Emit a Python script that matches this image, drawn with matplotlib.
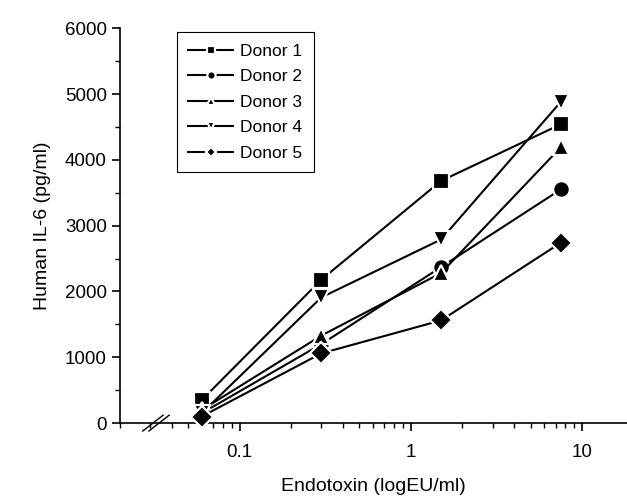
import matplotlib.pyplot as plt
from matplotlib.ticker import FixedLocator, FixedFormatter, NullFormatter, LogLocator

plt.rcParams['font.family'] = ['Liberation Sans', 'DejaVu Sans']

# Endotoxin-Konzentrationen (EU/ml)
endotoxin = [0.06, 0.3, 1.5, 7.5]

# IL-6 Werte pro Spender (pg/ml)
donor1 = [350, 2180, 3680, 4540]
donor2 = [150, 1200, 2370, 3550]
donor3 = [200, 1330, 2280, 4190]
donor4 = [150, 1910, 2790, 4880]
donor5 = [100, 1060, 1560, 2740]

donors = [donor1, donor2, donor3, donor4, donor5]
labels = ['Donor 1', 'Donor 2', 'Donor 3', 'Donor 4', 'Donor 5']
markers = ['s', 'o', '^', 'v', 'D']
sizes = [12, 12, 12, 12, 11]

fig = plt.figure(figsize=(6.27, 4.96), dpi=100)
ax = fig.add_axes([0.1914, 0.147, 0.8086, 0.796])

for werte, lab, m, s in zip(donors, labels, markers, sizes):
    ax.plot(endotoxin, werte, color='black', lw=1.5, marker=m, ms=s,
            mfc='black', mec='white', mew=1.6, label=lab, clip_on=False, zorder=3)

ax.set_xscale('log')
ax.set_xlim(0.02, 18.3)
ax.set_ylim(0, 6000)

ax.xaxis.set_major_locator(FixedLocator([0.1, 1, 10]))
ax.xaxis.set_major_formatter(FixedFormatter(['0.1', '1', '10']))
ax.xaxis.set_minor_locator(LogLocator(base=10, subs=range(2, 10)))
ax.xaxis.set_minor_formatter(NullFormatter())
ax.set_yticks(range(0, 6001, 1000))
ax.set_yticks(range(500, 6000, 1000), minor=True)

ax.spines['top'].set_visible(False)
ax.spines['right'].set_visible(False)
ax.spines['left'].set_linewidth(1.2)
ax.spines['bottom'].set_linewidth(1.2)
ax.tick_params(axis='both', which='major', direction='out', length=6, width=1.2, labelsize=13.5)
ax.tick_params(axis='x', which='major', pad=9)
ax.tick_params(axis='both', which='minor', direction='out', length=3.5, width=1.0)

ax.set_xlabel('Endotoxin (logEU/ml)', fontsize=14, labelpad=12)
ax.set_ylabel('Human IL-6 (pg/ml)', fontsize=14, labelpad=10)

# Achsenbruch
for dx in (0.0, 0.012):
    ax.plot([0.045 + dx, 0.085 + dx], [-0.02, 0.02], transform=ax.transAxes,
            color='black', lw=1.0, clip_on=False)

leg = ax.legend(loc='upper left', bbox_to_anchor=(0.112, 0.99), fontsize=12.5,
                markerscale=0.5, handlelength=2.6, handletextpad=0.4,
                labelspacing=0.6, borderpad=0.65, borderaxespad=0.0,
                fancybox=False, edgecolor='black', framealpha=1)
leg.get_frame().set_linewidth(0.8)

plt.savefig('out.png', dpi=100)
